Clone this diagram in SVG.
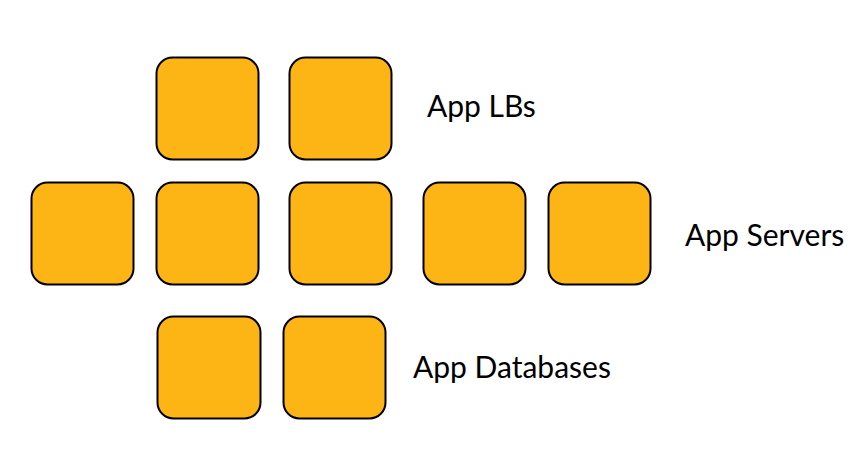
<svg xmlns="http://www.w3.org/2000/svg" width="860" height="450" viewBox="0 0 860 450">
<style>
.box{fill:#FDB515;stroke:#000;stroke-width:2}
.lbl{font-family:Lato,"Open Sans","Liberation Sans",sans-serif;font-size:30px;fill:#000}
</style>
<rect width="860" height="450" fill="#fff"/>
<g id="lb1"><rect class="box" x="156.5" y="57.5" width="102" height="102" rx="16"/></g>
<g id="lb2"><rect class="box" x="289.5" y="57.5" width="102" height="102" rx="16"/></g>
<g id="srv1"><rect class="box" x="31.5" y="182.5" width="102" height="102" rx="16"/></g>
<g id="srv2"><rect class="box" x="156.5" y="182.5" width="102" height="102" rx="16"/></g>
<g id="srv3"><rect class="box" x="289.5" y="182.5" width="102" height="102" rx="16"/></g>
<g id="srv4"><rect class="box" x="423.5" y="182.5" width="102" height="102" rx="16"/></g>
<g id="srv5"><rect class="box" x="548.5" y="182.5" width="102" height="102" rx="16"/></g>
<g id="db1"><rect class="box" x="157.5" y="316.5" width="103" height="102" rx="16"/></g>
<g id="db2"><rect class="box" x="283.5" y="316.5" width="102" height="102" rx="16"/></g>
<g id="connectors"></g>
<text class="lbl" x="427" y="117">App LBs</text>
<text class="lbl" x="685" y="246">App Servers</text>
<text class="lbl" x="413" y="378">App Databases</text>
</svg>
